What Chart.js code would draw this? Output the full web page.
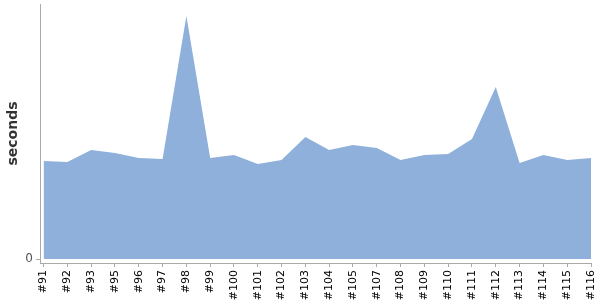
<!DOCTYPE html>
<html>
<head>
<meta charset="utf-8">
<script src="https://cdn.jsdelivr.net/npm/chart.js@4/dist/chart.umd.min.js"></script>
<style>
  html, body { margin: 0; padding: 0; background: #fff; }
  #wrap { width: 600px; height: 300px; }
</style>
</head>
<body>
<div id="wrap"><canvas id="chart"></canvas></div>
<script>
// Durées par build
const builds = ['#91', '#92', '#93', '#95', '#96', '#97', '#98', '#99', '#100', '#101', '#102', '#103',
    '#104', '#105', '#107', '#108', '#109', '#110', '#111', '#112', '#113', '#114', '#115', '#116'];
const durations = [98, 97, 109, 106, 101, 100, 243, 101, 104, 95, 99, 122,
    109, 114, 111, 99, 104, 105, 120, 172, 96, 104, 99, 101];
const yTicks = [0];

const points = durations.map((v, i) => ({ x: i, y: v }));

new Chart(document.getElementById('chart'), {
    type: 'line',
    data: {
        datasets: [{
            label: 'seconds',
            data: points,
            fill: 'origin',
            backgroundColor: 'rgb(142, 176, 218)',
            borderWidth: 0,
            pointRadius: 0,
            tension: 0
        }]
    },
    options: {
        responsive: true,
        maintainAspectRatio: false,
        animation: false,
        layout: { padding: { top: 4, right: 9, left: 1, bottom: 0 } },
        plugins: {
            legend: { display: false },
            tooltip: { enabled: false }
        },
        scales: {
            x: {
                type: 'linear',
                min: -0.15,
                max: builds.length - 1,
                afterBuildTicks: (scale) => {
                    scale.ticks = builds.map((b, i) => ({ value: i }));
                },
                afterFit: (scale) => {
                    scale.height = 37;
                    scale.paddingLeft = 0;
                    scale.paddingRight = 0;
                },
                ticks: {
                    autoSkip: false,
                    maxRotation: 90,
                    minRotation: 90,
                    padding: 3,
                    color: '#000',
                    font: { family: 'DejaVu Sans', size: 11 },
                    callback: (v) => builds[v]
                },
                grid: {
                    display: true,
                    drawOnChartArea: false,
                    tickLength: 4,
                    color: '#aaa'
                },
                border: { display: true, color: '#aaa' }
            },
            y: {
                min: -4,
                max: 255,
                afterBuildTicks: (scale) => {
                    scale.ticks = yTicks.map(v => ({ value: v }));
                },
                afterFit: (scale) => {
                    scale.width = 39;
                    scale.paddingTop = 0;
                    scale.paddingBottom = 0;
                },
                ticks: {
                    padding: 3,
                    color: '#555',
                    font: { family: 'DejaVu Sans', size: 12 }
                },
                grid: {
                    display: true,
                    drawOnChartArea: false,
                    tickLength: 4,
                    color: '#aaa'
                },
                border: { display: true, color: '#aaa' },
                title: {
                    display: true,
                    text: 'seconds',
                    color: '#333',
                    font: { family: 'DejaVu Sans', size: 14, weight: 'bold' },
                    padding: { top: 4, bottom: 4 }
                }
            }
        }
    }
});
</script>
</body>
</html>
